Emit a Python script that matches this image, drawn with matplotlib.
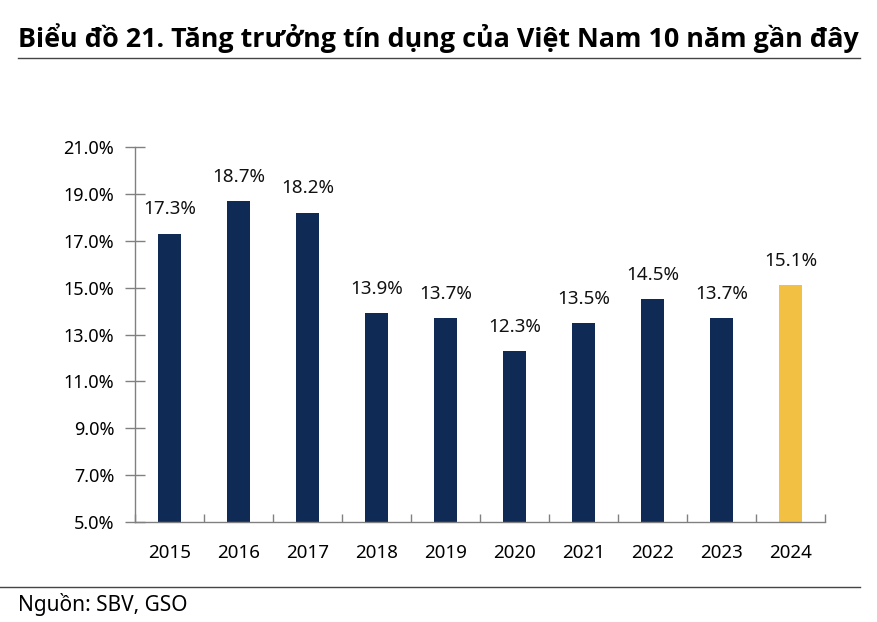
import numpy as np
import matplotlib.pyplot as plt
from matplotlib.lines import Line2D

years = ['2015', '2016', '2017', '2018', '2019', '2020', '2021', '2022', '2023', '2024']
credit_growth = [17.3, 18.7, 18.2, 13.9, 13.7, 12.3, 13.5, 14.5, 13.7, 15.1]

navy = '#0F2B55'
gold = '#F2C144'
colors = [navy] * 9 + [gold]

plt.rcParams['font.family'] = ['Noto Sans', 'DejaVu Sans']

fig = plt.figure(figsize=(8.78, 6.22), dpi=100)
ax = fig.add_axes([135 / 878, 1 - 522 / 622, 690 / 878, 375 / 622])

x = np.arange(len(years))
bars = ax.bar(x, credit_growth, width=0.32, color=colors, bottom=0)

for rect, v in zip(bars, credit_growth):
    ax.annotate('{:.1f}%'.format(v),
                xy=(rect.get_x() + rect.get_width() / 2, v),
                xytext=(0, 11), textcoords='offset points',
                ha='center', va='bottom', fontsize=13.5, color='#111111')

ax.set_xlim(-0.5, len(years) - 0.5)
ax.set_ylim(5, 21)
ax.set_yticks(np.arange(5, 22, 2))
ax.set_yticklabels(['{:.1f}%'.format(t) for t in np.arange(5, 22, 2)])
ax.set_xticks(x)
ax.set_xticklabels(years)
ax.set_xticks(np.arange(-0.5, len(years), 1), minor=True)

ax.tick_params(axis='y', direction='inout', length=14, width=1, color='#808080',
               labelsize=13, pad=8)
ax.tick_params(axis='x', which='major', length=0, labelsize=13.5, pad=16)
ax.tick_params(axis='x', which='minor', direction='in', length=6, width=1, color='#808080')

for s in ['top', 'right']:
    ax.spines[s].set_visible(False)
for s in ['left', 'bottom']:
    ax.spines[s].set_color('#808080')
    ax.spines[s].set_linewidth(1)

fig.text(18 / 878, 1 - 38 / 622, 'Biểu đồ 21. Tăng trưởng tín dụng của Việt Nam 10 năm gần đây',
         fontsize=19.4, fontweight='bold', ha='left', va='center',
         family=['Open Sans', 'DejaVu Sans'])
fig.add_artist(Line2D([18 / 878, 860 / 878], [1 - 58 / 622] * 2, color='#444444', lw=1))
fig.add_artist(Line2D([0, 860 / 878], [1 - 587 / 622] * 2, color='#444444', lw=1))
fig.text(18 / 878, 1 - 605 / 622, 'Nguồn: SBV, GSO', fontsize=15, ha='left', va='center')

fig.savefig('out.png', dpi=100)
